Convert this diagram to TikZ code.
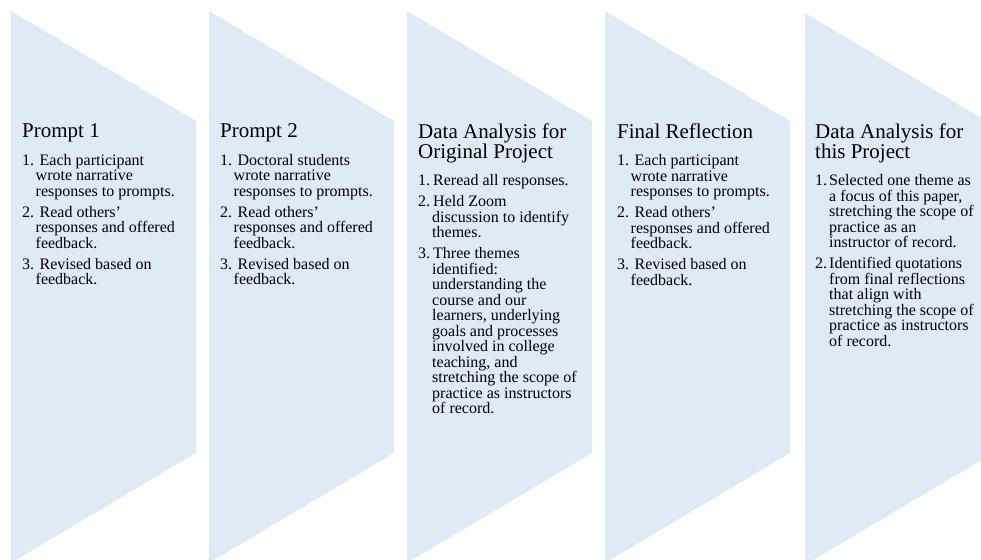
\documentclass[tikz,border=0pt]{standalone}
\usepackage{fontspec}
\setmainfont{Liberation Serif}
\usetikzlibrary{positioning}
\definecolor{chevfill}{RGB}{222,234,246}
\tikzset{
    chev/.style={
        fill=chevfill, draw=none
    },
    ttl/.style={
        anchor=north west, inner sep=0pt, align=left, text depth=5pt,
        font=\fontsize{21}{20}\selectfont
    },
    lst/.style={
        anchor=north west, inner sep=0pt, align=left,
        font=\fontsize{16}{15.5}\selectfont
    }
}
% number box and hanging indent for the step lists
\newcommand{\stepnum}[2][17.5pt]{\makebox[#1][l]{#2}}
\newcommand{\stepcont}[1][13.5pt]{\hspace*{#1}}

\begin{document}
\begin{tikzpicture}[x=1pt,y=-1pt]

% --- page frame (pixel units, y downwards) ---
    \useasboundingbox (0,0) rectangle (981,559);

% chevrons: left edge / vertical offset
    \foreach \L/\dy in {11/0, 209/0, 407/0, 605/0, 805/2} {
        \fill[chev] (\L,11+\dy) -- (\L+185,121+\dy) -- (\L+185,453+\dy)
            -- (\L,563+\dy) -- cycle;
    }

% step 1
    \node[ttl] (t1) at (22,123.5) {Prompt 1};
    \node[lst, below=11pt of t1.south west, anchor=north west] (l1) {%
        \stepnum{1.}Each participant\\
        \stepcont wrote narrative\\
        \stepcont responses to prompts.\\[5.5pt]
        \stepnum{2.}Read others'\\
        \stepcont responses and offered\\
        \stepcont feedback.\\[5.5pt]
        \stepnum{3.}Revised based on\\
        \stepcont feedback.};

% step 2
    \node[ttl] (t2) at (220,123.5) {Prompt 2};
    \node[lst, below=11pt of t2.south west, anchor=north west] (l2) {%
        \stepnum{1.}Doctoral students\\
        \stepcont wrote narrative\\
        \stepcont responses to prompts.\\[5.5pt]
        \stepnum{2.}Read others'\\
        \stepcont responses and offered\\
        \stepcont feedback.\\[5.5pt]
        \stepnum{3.}Revised based on\\
        \stepcont feedback.};

% step 3
    \node[ttl] (t3) at (418,123.5) {Data Analysis for\\Original Project};
    \node[lst, below=11pt of t3.south west, anchor=north west] (l3) {%
        \stepnum[15pt]{1.}Reread all responses.\\[5.5pt]
        \stepnum[15pt]{2.}Held Zoom\\
        \stepcont[14pt]discussion to identify\\
        \stepcont[14pt]themes.\\[5.5pt]
        \stepnum[15pt]{3.}Three themes\\
        \stepcont[14pt]identified:\\
        \stepcont[14pt]understanding the\\
        \stepcont[14pt]course and our\\
        \stepcont[14pt]learners, underlying\\
        \stepcont[14pt]goals and processes\\
        \stepcont[14pt]involved in college\\
        \stepcont[14pt]teaching, and\\
        \stepcont[14pt]stretching the scope of\\
        \stepcont[14pt]practice as instructors\\
        \stepcont[14pt]of record.};

% step 4
    \node[ttl] (t4) at (617,123.5) {Final Reflection};
    \node[lst, below=11pt of t4.south west, anchor=north west] (l4) {%
        \stepnum{1.}Each participant\\
        \stepcont wrote narrative\\
        \stepcont responses to prompts.\\[5.5pt]
        \stepnum{2.}Read others'\\
        \stepcont responses and offered\\
        \stepcont feedback.\\[5.5pt]
        \stepnum{3.}Revised based on\\
        \stepcont feedback.};

% step 5
    \node[ttl] (t5) at (815,123.5) {Data Analysis for\\this Project};
    \node[lst, below=11pt of t5.south west, anchor=north west] (l5) {%
        \stepnum[14pt]{1.}Selected one theme as\\
        \stepcont[14pt]a focus of this paper,\\
        \stepcont[14pt]stretching the scope of\\
        \stepcont[14pt]practice as an\\
        \stepcont[14pt]instructor of record.\\[5.5pt]
        \stepnum[14pt]{2.}Identified quotations\\
        \stepcont[14pt]from final reflections\\
        \stepcont[14pt]that align with\\
        \stepcont[14pt]stretching the scope of\\
        \stepcont[14pt]practice as instructors\\
        \stepcont[14pt]of record.};

\end{tikzpicture}
\end{document}
